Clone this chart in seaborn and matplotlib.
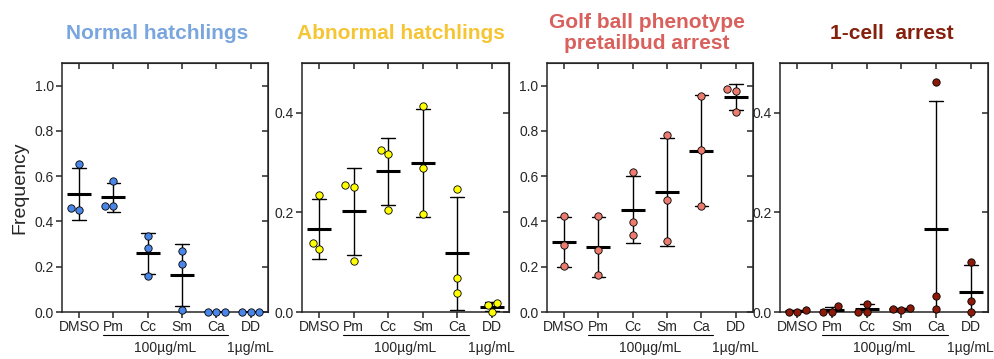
import numpy as np
import pandas as pd
import seaborn as sns
import matplotlib.pyplot as plt
import matplotlib.transforms as mtransforms

# grupos y valores (3 replicas por grupo)
groups = ["DMSO", "Pm", "Cc", "Sm", "Ca", "DD"]

normal = [[0.654, 0.45, 0.46], [0.58, 0.468, 0.47], [0.337, 0.284, 0.16],
          [0.269, 0.211, 0.01], [0.0, 0.0, 0.0], [0.0, 0.0, 0.0]]
abnormal = [[0.235, 0.127, 0.138], [0.255, 0.251, 0.102], [0.326, 0.317, 0.204],
            [0.413, 0.29, 0.197], [0.248, 0.069, 0.038], [0.0175, 0.0, 0.015]]
golfball = [[0.424, 0.298, 0.204], [0.425, 0.272, 0.165], [0.619, 0.397, 0.338],
            [0.783, 0.495, 0.312], [0.956, 0.716, 0.468], [0.985, 0.978, 0.883]]
onecell = [[0.005, 0.0, 0.0], [0.012, 0.0, 0.0], [0.017, 0.0, 0.0],
           [0.009, 0.005, 0.007], [0.462, 0.033, 0.007], [0.101, 0.022, 0.0]]

titles = ["Normal hatchlings", "Abnormal hatchlings",
          "Golf ball phenotype\npretailbud arrest", "1-cell  arrest"]
title_colors = ["#79a6de", "#f5c533", "#d9605c", "#85200c"]
point_colors = ["#4a86e8", "#ffff00", "#ea7b6e", "#8b1a0a"]
ymax = [1.1, 0.5, 1.1, 0.5]
yticks = [[0, 0.2, 0.4, 0.6, 0.8, 1.0], [0, 0.2, 0.4], [0, 0.2, 0.4, 0.6, 0.8, 1.0], [0, 0.2, 0.4]]

# layout (fracciones de la figura)
lefts = [0.0623, 0.3035, 0.5497, 0.7839]
widths = [0.207, 0.208, 0.207, 0.209]
title_x = [0.46, 0.48, 0.485, 0.54]

sns.set_style("ticks")
plt.rcParams['font.family'] = ['Liberation Sans', 'DejaVu Sans']

fig = plt.figure(figsize=(9.95, 3.59), dpi=100)

for i, vals in enumerate([normal, abnormal, golfball, onecell]):
    df = pd.DataFrame({
        "grupo": np.repeat(groups, 3),
        "freq": np.array(vals).ravel(),
    })
    ax = fig.add_axes([lefts[i], 0.1309, widths[i], 0.6936])

    # media +- SD
    sns.pointplot(data=df, x="grupo", y="freq", order=groups, ax=ax,
                  errorbar="sd", capsize=0.4, color="black",
                  linestyle="none", marker="_", markersize=17,
                  markeredgewidth=2.2, err_kws={"linewidth": 1.0}, zorder=3)
    sns.swarmplot(data=df, x="grupo", y="freq", order=groups, ax=ax,
                  color=point_colors[i], size=5.3, edgecolor="black",
                  linewidth=0.6, zorder=4, clip_on=False)

    ax.set_xlim(-0.5, 5.5)
    ax.set_ylim(0, ymax[i])
    ax.set_yticks(yticks[i])
    ax.set_yticklabels([f"{t:.1f}" for t in yticks[i]])
    ax.set_xlabel("")
    ax.set_ylabel("Frequency" if i == 0 else "", fontsize=14)
    ax.tick_params(axis="both", direction="out", length=4, width=1.1,
                   labelsize=10, pad=2)
    for sp in ax.spines.values():
        sp.set_visible(True)
        sp.set_linewidth(1.1)

    # ticks hacia dentro en borde superior y derecho
    top = ax.secondary_xaxis("top")
    top.set_xticks(range(len(groups)))
    top.set_xticklabels([])
    top.tick_params(direction="in", length=4, width=1.1)
    right = ax.secondary_yaxis("right")
    right.set_yticks(yticks[i])
    right.set_yticklabels([])
    right.tick_params(direction="in", length=4, width=1.1)

    # titulo
    ax.text(title_x[i], 1.12, titles[i], transform=ax.transAxes, ha="center",
            va="center", fontsize=15, fontweight="bold", color=title_colors[i],
            linespacing=1.15)

    # etiquetas de concentracion
    trans = mtransforms.blended_transform_factory(ax.transData, ax.transAxes)
    ax.plot([0.7, 4.35], [-0.092, -0.092], color="black", lw=0.8,
            transform=trans, clip_on=False)
    ax.text(2.5, -0.145, "100µg/mL", transform=trans, ha="center",
            va="center", fontsize=10)
    ax.text(5.0, -0.145, "1µg/mL", transform=trans, ha="center",
            va="center", fontsize=10)

plt.savefig("out.png", dpi=100)
